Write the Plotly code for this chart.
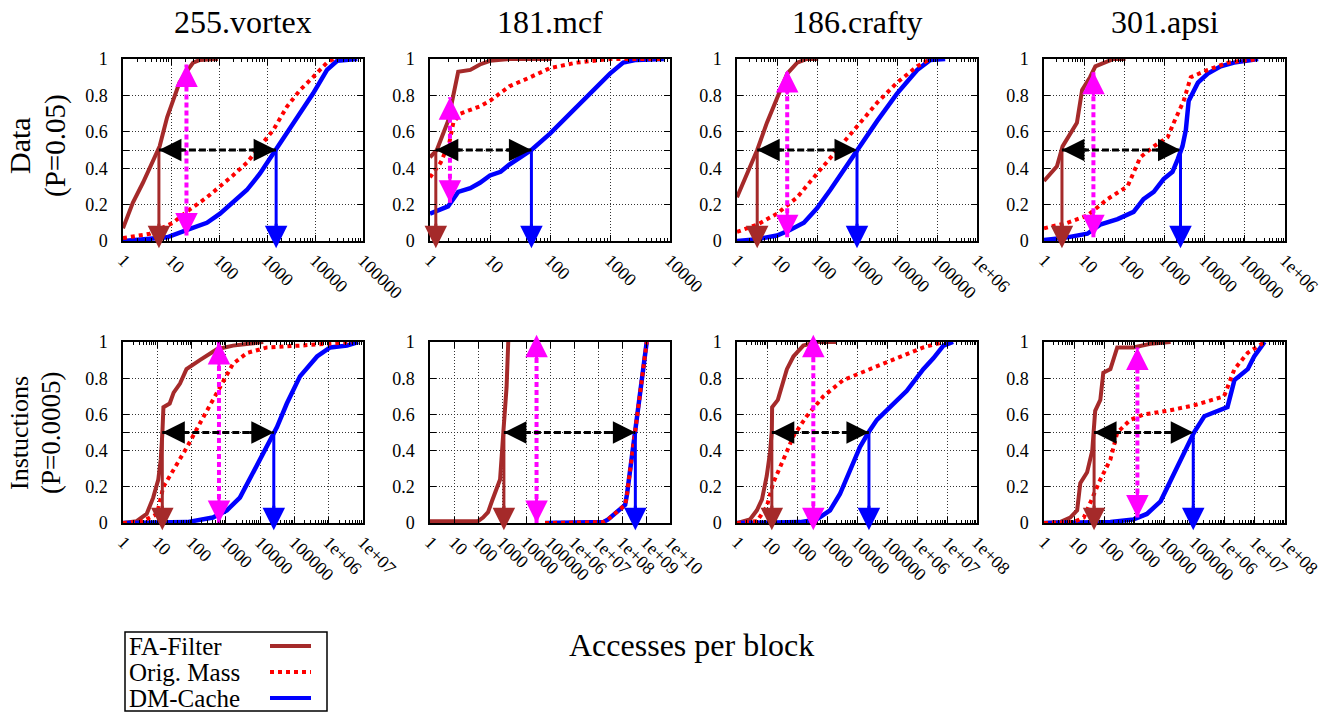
import math
import plotly.graph_objects as go

W, H = 1337, 713
FONT = "Liberation Serif"

BROWN = "#A52A2A"
RED = "#FF0000"
BLUE = "#0000FF"
MAGENTA = "#FF00FF"

BENCHMARKS = ["255.vortex", "181.mcf", "186.crafty", "301.apsi"]
ROW_LABELS = [("Data", "(P=0.05)"), ("Instuctions", "(P=0.0005)")]
SERIES_NAMES = ["FA-Filter", "Orig. Mass", "DM-Cache"]

TICK_VALS = [1, 10, 100, 1000, 1e4, 1e5, 1e6, 1e7, 1e8, 1e9, 1e10]
TICK_TEXT = ["1", "10", "100", "1000", "10000", "100000",
             "1e+06", "1e+07", "1e+08", "1e+09", "1e+10"]
Y_TICK_VALS = [0, 0.2, 0.4, 0.5, 0.6, 0.8, 1]
Y_TICK_TEXT = ["0", "0.2", "0.4", "", "0.6", "0.8", "1"]

# ---------------- Data accesses (P=0.05) ----------------
vortex_d_fa_x = [1, 1.6, 2.6, 4.3, 5.8, 8.3, 11, 15, 21, 29, 40, 95]
vortex_d_fa_y = [0.07, 0.21, 0.32, 0.45, 0.52, 0.68, 0.77, 0.87, 0.93, 0.98, 0.995, 1.0]
vortex_d_om_x = [1, 3.6, 11, 21, 56, 105, 195, 380, 710, 1350, 2630, 4900, 9100, 17800, 24000]
vortex_d_om_y = [0.016, 0.04, 0.10, 0.16, 0.24, 0.30, 0.36, 0.43, 0.52, 0.61, 0.74, 0.83, 0.90, 0.98, 1.0]
vortex_d_dm_x = [1, 3.6, 8.3, 21, 56, 105, 195, 380, 710, 1350, 2630, 4900, 9100, 17800, 29000, 76000]
vortex_d_dm_y = [0, 0.01, 0.02, 0.06, 0.10, 0.15, 0.21, 0.28, 0.37, 0.48, 0.59, 0.70, 0.81, 0.94, 0.99, 1.0]

mcf_d_fa_x = [1, 1.3, 2.0, 2.45, 2.95, 4.7, 6.8, 10, 21, 107]
mcf_d_fa_y = [0.46, 0.50, 0.66, 0.79, 0.93, 0.94, 0.97, 0.99, 1.0, 1.0]
mcf_d_om_x = [1, 1.5, 2.1, 2.45, 3.2, 6.8, 10, 21, 47, 100, 275, 1000, 7900]
mcf_d_om_y = [0.35, 0.43, 0.54, 0.65, 0.70, 0.74, 0.77, 0.85, 0.90, 0.95, 0.98, 1.0, 1.0]
mcf_d_dm_x = [1, 2.0, 2.95, 4.7, 6.8, 10, 15, 21, 32, 49, 100, 214, 470, 1000, 1660, 2750, 7900]
mcf_d_dm_y = [0.15, 0.19, 0.27, 0.29, 0.32, 0.36, 0.38, 0.42, 0.46, 0.50, 0.59, 0.70, 0.81, 0.92, 0.98, 0.995, 1.0]

crafty_d_fa_x = [1, 1.8, 3.2, 5.6, 10, 18, 32, 56, 107]
crafty_d_fa_y = [0.24, 0.37, 0.50, 0.65, 0.79, 0.92, 0.98, 1.0, 1.0]
crafty_d_om_x = [1, 3.2, 10, 32, 100, 320, 1000, 3200, 10000, 32000, 68000]
crafty_d_om_y = [0.05, 0.09, 0.15, 0.24, 0.37, 0.50, 0.63, 0.76, 0.87, 0.96, 1.0]
crafty_d_dm_x = [1, 3.2, 10, 21, 47, 100, 214, 470, 1000, 3200, 10000, 32000, 68000, 160000]
crafty_d_dm_y = [0, 0.01, 0.03, 0.06, 0.10, 0.18, 0.28, 0.39, 0.50, 0.66, 0.81, 0.94, 0.995, 1.0]

apsi_d_fa_x = [1, 2.1, 2.9, 6.6, 8.9, 14, 19, 30, 54, 107]
apsi_d_fa_y = [0.33, 0.41, 0.52, 0.65, 0.83, 0.90, 0.96, 0.98, 1.0, 1.0]
apsi_d_om_x = [1, 3.8, 12, 38, 120, 170, 250, 540, 1200, 1700, 3000, 4500, 12000, 38000, 214000]
apsi_d_om_y = [0.07, 0.10, 0.14, 0.23, 0.30, 0.37, 0.46, 0.52, 0.57, 0.65, 0.77, 0.90, 0.94, 0.98, 1.0]
apsi_d_dm_x = [1, 3.8, 12, 25, 68, 170, 300, 540, 950, 1580, 2140, 2800, 3400, 4000, 6800,
               12000, 25000, 54000, 214000]
apsi_d_dm_y = [0.005, 0.02, 0.04, 0.09, 0.12, 0.16, 0.23, 0.27, 0.34, 0.38, 0.45, 0.52, 0.61, 0.77, 0.87,
               0.92, 0.96, 0.98, 1.0]

# ---------------- Instruction accesses (P=0.0005) ----------------
vortex_i_fa_x = [1, 2.5, 4.9, 7.6, 10.7, 12.6, 14.1, 15.1, 23, 30, 46, 71, 174, 550, 1620, 12300]
vortex_i_fa_y = [0, 0.01, 0.05, 0.14, 0.24, 0.35, 0.50, 0.64, 0.66, 0.72, 0.77, 0.85, 0.90, 0.96, 0.98, 1.0]
vortex_i_om_x = [1, 3.8, 9.8, 15, 29, 74, 174, 550, 1620, 4200, 16000, 145000, 5000000]
vortex_i_om_y = [0, 0.01, 0.05, 0.20, 0.29, 0.42, 0.55, 0.72, 0.88, 0.94, 0.97, 0.98, 1.0]
vortex_i_dm_x = [1, 74, 420, 1070, 2570, 6200, 16000, 31000, 60000, 145000, 457000, 1100000, 3400000, 7200000]
vortex_i_dm_y = [0, 0.005, 0.03, 0.07, 0.14, 0.28, 0.42, 0.53, 0.66, 0.81, 0.92, 0.97, 0.98, 1.0]

mcf_i_fa_x = [1, 100, 162, 263, 380, 830, 1150, 1550, 1820]
mcf_i_fa_y = [0.01, 0.01, 0.03, 0.06, 0.12, 0.24, 0.51, 0.75, 1.0]
mcf_i_om_x = [62000, 1.66e7, 2.63e7, 1.35e8, 1.62e8, 4.1e8, 7.8e8, 1.07e9]
mcf_i_om_y = [0, 0.005, 0.02, 0.10, 0.16, 0.57, 0.88, 1.0]
mcf_i_dm_x = [62000, 1.66e7, 2.63e7, 1.35e8, 1.62e8, 4.1e8, 7.8e8, 1.07e9]
mcf_i_dm_y = [0, 0.005, 0.02, 0.10, 0.16, 0.57, 0.88, 1.0]

crafty_i_fa_x = [1, 2.7, 4.6, 6.8, 9.8, 12.6, 14.5, 14.8, 23, 31, 46, 76, 162, 457, 2100]
crafty_i_fa_y = [0, 0.02, 0.07, 0.13, 0.26, 0.39, 0.51, 0.64, 0.68, 0.75, 0.85, 0.92, 0.98, 1.0, 1.0]
crafty_i_om_x = [1, 4.6, 9.8, 16, 35, 76, 210, 760, 3500, 27000, 210000, 1620000, 7600000]
crafty_i_om_y = [0, 0.01, 0.09, 0.22, 0.35, 0.48, 0.59, 0.70, 0.79, 0.85, 0.91, 0.97, 1.0]
crafty_i_dm_x = [1, 126, 457, 1260, 2700, 5900, 12600, 24000, 46000, 126000, 457000, 1620000,
                 3500000, 7600000, 16000000]
crafty_i_dm_y = [0, 0.005, 0.02, 0.07, 0.16, 0.29, 0.42, 0.50, 0.57, 0.64, 0.73, 0.85, 0.91, 0.98, 1.0]

apsi_i_fa_x = [1, 3.4, 7.4, 12.6, 16, 27, 40, 50, 74, 93, 160, 270, 930, 3400, 16000]
apsi_i_fa_y = [0, 0.005, 0.03, 0.07, 0.22, 0.28, 0.40, 0.62, 0.68, 0.83, 0.85, 0.97, 0.97, 0.99, 1.0]
apsi_i_om_x = [1, 9.5, 21, 46, 74, 160, 270, 740, 2100, 12600, 95000, 950000, 2100000, 5800000, 21000000]
apsi_i_om_y = [0, 0.005, 0.03, 0.16, 0.24, 0.35, 0.50, 0.57, 0.60, 0.62, 0.65, 0.70, 0.85, 0.94, 1.0]
apsi_i_dm_x = [1, 160, 950, 2600, 7400, 20000, 58000, 95000, 210000, 580000, 1230000, 2100000,
               5800000, 9500000, 21000000]
apsi_i_dm_y = [0, 0.005, 0.02, 0.05, 0.12, 0.27, 0.42, 0.50, 0.59, 0.62, 0.64, 0.79, 0.85, 0.92, 1.0]

# medians (y = 0.5) of FA-Filter and DM-Cache, one value per panel (row-major)
FA_MEDIAN = [5.6, 1.25, 3.2, 2.8, 14, 1200, 14.5, 46]
DM_MEDIAN = [1550, 49, 1000, 2500, 25000, 3.6e8, 25000, 90000]
# magenta comparison arrow: x position, lower and upper tip
GAP_X = [21, 2.15, 18, 17, 630, 27500, 350, 1260]
GAP_LO = [0.03, 0.21, 0.02, 0.02, 0.0, 0.0, -0.04, 0.03]
GAP_HI = [0.97, 0.79, 0.94, 0.93, 1.0, 1.04, 1.04, 0.97]

# decades shown on each panel's x axis
DECADES = [5, 4, 6, 6, 7, 10, 8, 8]
MINOR_TICKS = [True, True, True, True, True, False, True, True]

PANELS = [
    (vortex_d_fa_x, vortex_d_fa_y, vortex_d_om_x, vortex_d_om_y, vortex_d_dm_x, vortex_d_dm_y),
    (mcf_d_fa_x, mcf_d_fa_y, mcf_d_om_x, mcf_d_om_y, mcf_d_dm_x, mcf_d_dm_y),
    (crafty_d_fa_x, crafty_d_fa_y, crafty_d_om_x, crafty_d_om_y, crafty_d_dm_x, crafty_d_dm_y),
    (apsi_d_fa_x, apsi_d_fa_y, apsi_d_om_x, apsi_d_om_y, apsi_d_dm_x, apsi_d_dm_y),
    (vortex_i_fa_x, vortex_i_fa_y, vortex_i_om_x, vortex_i_om_y, vortex_i_dm_x, vortex_i_dm_y),
    (mcf_i_fa_x, mcf_i_fa_y, mcf_i_om_x, mcf_i_om_y, mcf_i_dm_x, mcf_i_dm_y),
    (crafty_i_fa_x, crafty_i_fa_y, crafty_i_om_x, crafty_i_om_y, crafty_i_dm_x, crafty_i_dm_y),
    (apsi_i_fa_x, apsi_i_fa_y, apsi_i_om_x, apsi_i_om_y, apsi_i_dm_x, apsi_i_dm_y),
]

# panel frames in pixels
COL_X = [(123, 363), (430, 670), (737, 977), (1044, 1285)]
ROW_Y = [(59, 241), (342, 523)]
ARROW_FLOOR = -0.04
HEAD_TAIL = 26


def px_x(p):
    return p / W


def px_y(p):
    return 1 - p / H


fig = go.Figure()
annotations = []
layout_axes = {}

for k in range(8):
    r, c = divmod(k, 4)
    idx = "" if k == 0 else str(k + 1)
    xa, ya = "x" + idx, "y" + idx
    n = DECADES[k]

    minor = dict(ticks="", showgrid=False)
    if MINOR_TICKS[k]:
        minor = dict(ticks="inside", ticklen=3, tickcolor="black", tickwidth=1, showgrid=False,
                     tickmode="array",
                     tickvals=[m * 10 ** e for e in range(n) for m in range(2, 10)])

    layout_axes["xaxis" + idx] = dict(
        type="log", range=[0, n], domain=[px_x(COL_X[c][0]), px_x(COL_X[c][1])],
        anchor=ya, tickmode="array", tickvals=TICK_VALS[:n + 1], ticktext=TICK_TEXT[:n + 1],
        tickangle=45, ticks="inside", ticklen=6, tickcolor="black", mirror="ticks",
        showline=True, linecolor="black", linewidth=1.5,
        showgrid=True, gridcolor="#333", griddash="1px,2px", gridwidth=1,
        zeroline=False, tickfont=dict(family=FONT, size=18, color="black"),
        minor=minor, automargin=False,
    )
    layout_axes["yaxis" + idx] = dict(
        range=[0, 1], domain=[px_y(ROW_Y[r][1]), px_y(ROW_Y[r][0])], anchor=xa,
        tickmode="array", tickvals=Y_TICK_VALS, ticktext=Y_TICK_TEXT,
        ticks="inside", ticklen=6, tickcolor="black", mirror="ticks",
        showline=True, linecolor="black", linewidth=1.5,
        showgrid=True, gridcolor="#333", griddash="1px,2px", gridwidth=1,
        zeroline=False, tickfont=dict(family=FONT, size=18, color="black"),
        ticklabelstandoff=10, automargin=False,
    )

    fa_x, fa_y, om_x, om_y, dm_x, dm_y = PANELS[k]
    fig.add_trace(go.Scatter(x=fa_x, y=fa_y, mode="lines", xaxis=xa, yaxis=ya, showlegend=False,
                             name=SERIES_NAMES[0], line=dict(color=BROWN, width=4)))
    fig.add_trace(go.Scatter(x=dm_x, y=dm_y, mode="lines", xaxis=xa, yaxis=ya, showlegend=False,
                             name=SERIES_NAMES[2], line=dict(color=BLUE, width=4.5)))
    fig.add_trace(go.Scatter(x=om_x, y=om_y, mode="lines", xaxis=xa, yaxis=ya, showlegend=False,
                             name=SERIES_NAMES[1], line=dict(color=RED, width=4, dash="dot")))

    fam, dmm = FA_MEDIAN[k], DM_MEDIAN[k]
    # arrow shafts
    fig.add_trace(go.Scatter(x=[fam, fam], y=[0.5, ARROW_FLOOR], mode="lines", xaxis=xa, yaxis=ya,
                             showlegend=False, hoverinfo="skip", line=dict(color=BROWN, width=3)))
    fig.add_trace(go.Scatter(x=[dmm, dmm], y=[0.5, ARROW_FLOOR], mode="lines", xaxis=xa, yaxis=ya,
                             showlegend=False, hoverinfo="skip", line=dict(color=BLUE, width=3)))
    fig.add_trace(go.Scatter(x=[GAP_X[k], GAP_X[k]], y=[GAP_LO[k], GAP_HI[k]], mode="lines",
                             xaxis=xa, yaxis=ya, showlegend=False, hoverinfo="skip",
                             line=dict(color=MAGENTA, width=4, dash="5px,3px")))
    fig.add_trace(go.Scatter(x=[fam, dmm], y=[0.5, 0.5], mode="lines", xaxis=xa, yaxis=ya,
                             showlegend=False, hoverinfo="skip",
                             line=dict(color="black", width=3, dash="7px,3px")))

    # arrow heads (y given as a fraction of the 0..1 axis so tips may sit past the frame)
    def head(x, y, ax, ay, color):
        annotations.append(dict(
            x=math.log10(x), y=y, xref=xa, yref=ya + " domain", ax=ax, ay=ay, text="",
            showarrow=True, arrowhead=2, arrowsize=1.5, arrowwidth=3, arrowcolor=color,
        ))

    head(fam, ARROW_FLOOR, 0, -HEAD_TAIL, BROWN)
    head(dmm, ARROW_FLOOR, 0, -HEAD_TAIL, BLUE)
    head(fam, 0.5, HEAD_TAIL, 0, "black")
    head(dmm, 0.5, -HEAD_TAIL, 0, "black")
    head(GAP_X[k], GAP_LO[k], 0, -HEAD_TAIL, MAGENTA)
    head(GAP_X[k], GAP_HI[k], 0, HEAD_TAIL, MAGENTA)

# panel titles
for c, name in enumerate(BENCHMARKS):
    cx = (COL_X[c][0] + COL_X[c][1]) / 2
    annotations.append(dict(x=px_x(cx), y=px_y(22), xref="paper", yref="paper", text=name,
                            showarrow=False, xanchor="center", yanchor="middle",
                            font=dict(family=FONT, size=32, color="black")))

# row labels
row_label_pos = [((19, 146, 30), (55, 146, 29)), ((19, 433, 26), (51, 433, 27))]
for r, (l1, l2) in enumerate(ROW_LABELS):
    for text, (cx, cy, size) in zip((l1, l2), row_label_pos[r]):
        annotations.append(dict(x=px_x(cx), y=px_y(cy), xref="paper", yref="paper", text=text,
                                showarrow=False, textangle=-90, xanchor="center", yanchor="middle",
                                font=dict(family=FONT, size=size, color="black")))

# x axis title
annotations.append(dict(x=px_x(691), y=px_y(645), xref="paper", yref="paper",
                        text="Accesses per block", showarrow=False, xanchor="center",
                        yanchor="middle", font=dict(family=FONT, size=32, color="black")))

# key box
shapes = [dict(type="rect", xref="paper", yref="paper", x0=px_x(125), x1=px_x(327),
               y0=px_y(711), y1=px_y(632), line=dict(color="black", width=1.5))]
legend_rows = [(SERIES_NAMES[0], BROWN, "solid", 646),
               (SERIES_NAMES[1], RED, "dot", 672),
               (SERIES_NAMES[2], BLUE, "solid", 698)]
for text, color, dash, yy in legend_rows:
    annotations.append(dict(x=px_x(127), y=px_y(yy), xref="paper", yref="paper", text=text,
                            showarrow=False, xanchor="left", yanchor="middle",
                            font=dict(family=FONT, size=25, color="black")))
    shapes.append(dict(type="line", xref="paper", yref="paper", x0=px_x(270), x1=px_x(311),
                       y0=px_y(yy), y1=px_y(yy), line=dict(color=color, width=4, dash=dash)))

fig.update_layout(
    width=W, height=H, autosize=False,
    margin=dict(l=0, r=0, t=0, b=0, pad=0, autoexpand=False),
    paper_bgcolor="white", plot_bgcolor="white",
    showlegend=False,
    annotations=annotations, shapes=shapes,
    **layout_axes,
)

fig.write_html("out.html")
